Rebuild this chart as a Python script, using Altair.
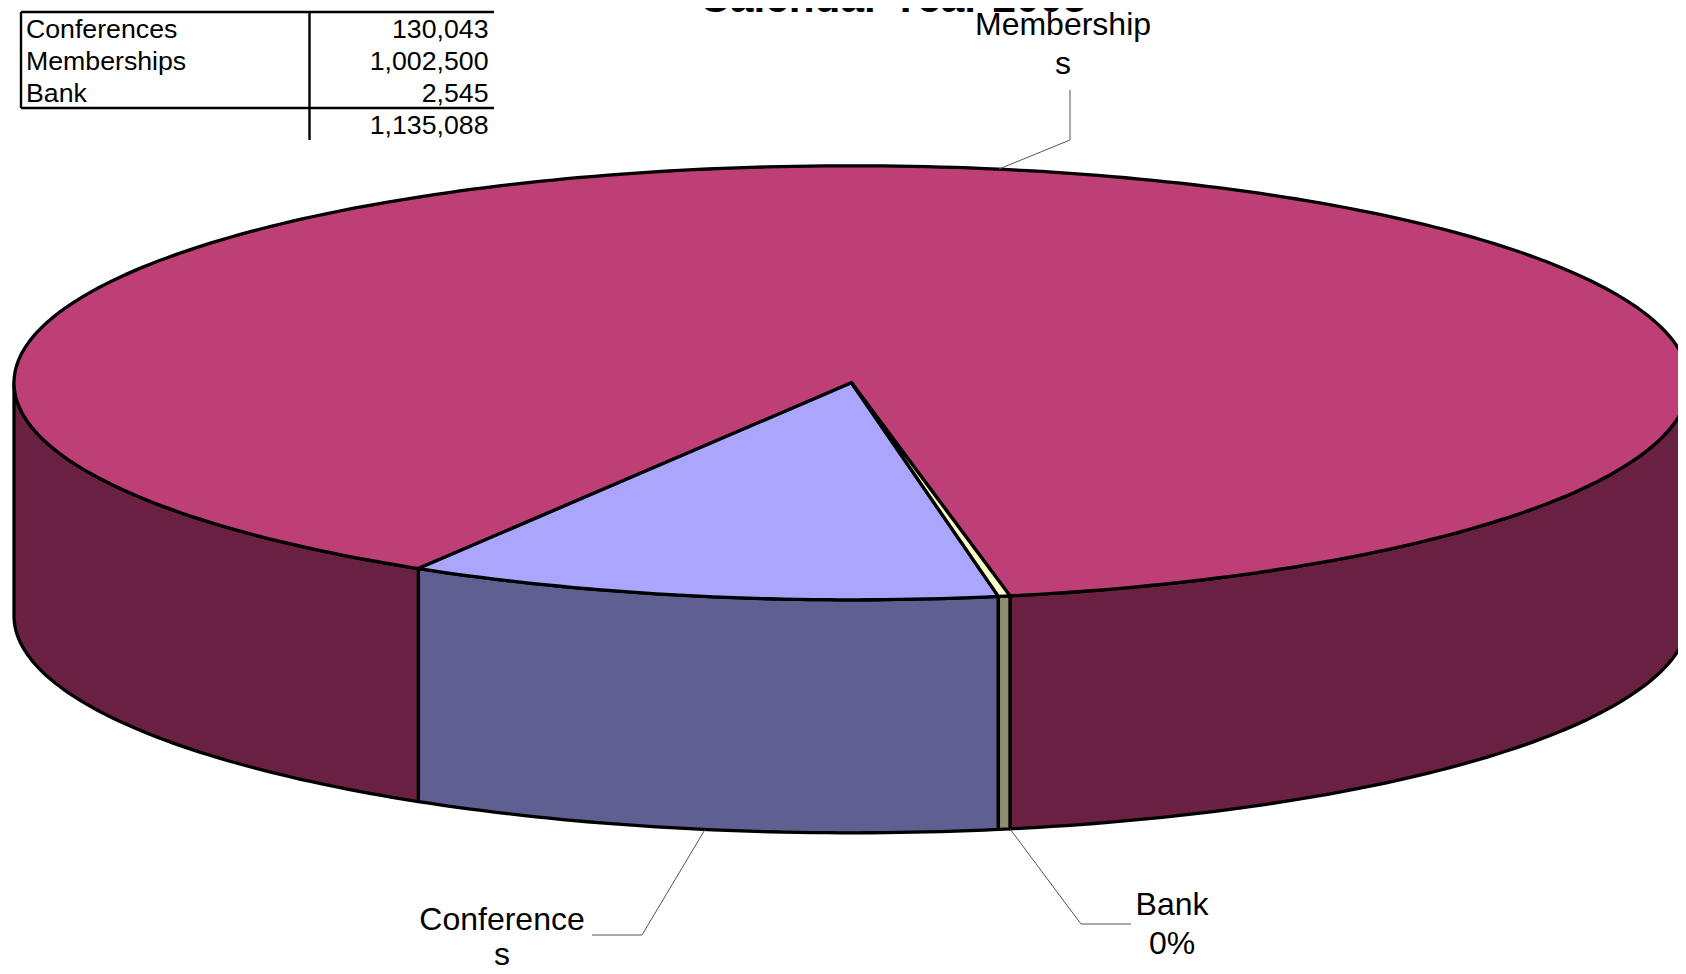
import math
import altair as alt
import pandas as pd

# ---- chart values ----
categories = ["Conferences", "Memberships", "Bank"]
values = [130043, 1002500, 2545]
total_label = "1,135,088"
value_labels = ["130,043", "1,002,500", "2,545"]
top_colors = ["#ABA6FD", "#BE3F76", "#FCFCC8"]
side_colors = ["#5F5F92", "#6A2040", "#8F8F70"]
title_text = "Calendar Year 2005"

# ---- layout of the drawing (page pixels) ----
W, H = 1670, 958
CX, CY, RX, RY, DEPTH = 851.5, 382.8, 837.5, 217.0, 233.0
START = 10.1  # degrees right of the front point where the first slice begins
TEXT = "Liberation Sans"

x_scale = alt.Scale(domain=[8, 8 + W], range=[0, W], nice=False, zero=False)
y_scale = alt.Scale(domain=[8, 8 + H], range=[0, H], nice=False, zero=False)
X = lambda f="x": alt.X(f"{f}:Q", scale=x_scale, axis=None)
Y = lambda f="y": alt.Y(f"{f}:Q", scale=y_scale, axis=None)


def rim(t, drop=0.0):
    r = math.radians(t)
    return CX + RX * math.sin(r), CY + RY * math.cos(r) + drop


def sweep(a, b):
    n = max(2, int(abs(b - a)) + 1)
    return [a + (b - a) * i / n for i in range(n + 1)]


def poly(points, fill, sw=3.3):
    df = pd.DataFrame(points, columns=["x", "y"])
    df["i"] = range(len(df))
    return alt.Chart(df).mark_line(
        interpolate="linear-closed", fill=fill, stroke="black",
        strokeWidth=sw, strokeJoin="round",
    ).encode(x=X(), y=Y(), order="i:Q")


def wall(a, b, fill):
    ts = sweep(a, b)
    return poly([rim(t) for t in ts] + [rim(t, DEPTH) for t in reversed(ts)], fill)


# slice boundaries, going clockwise on screen (t decreases)
tot = sum(values)
bounds = [START]
for v in values:
    bounds.append(bounds[-1] - 360.0 * v / tot)

layers = []
# side walls: only the part at the front (|t| <= 90) is visible
for i in range(3):
    a, b = bounds[i], bounds[i + 1]
    if i == 1:
        layers.append(wall(a, -90, side_colors[i]))
        layers.append(wall(bounds[2] + 360, 90, side_colors[i]))
    else:
        layers.append(wall(a, b, side_colors[i]))
# top faces
for i in [1, 0, 2]:
    a, b = bounds[i], bounds[i + 1]
    layers.append(poly([(CX, CY)] + [rim(t) for t in sweep(a, b)], top_colors[i]))


def leader(points):
    df = pd.DataFrame(points, columns=["x", "y"])
    df["i"] = range(len(df))
    return alt.Chart(df).mark_line(stroke="#555555", strokeWidth=1).encode(
        x=X(), y=Y(), order="i:Q"
    )


mid = [(bounds[i] + bounds[i + 1]) / 2 for i in range(3)]
layers.append(leader([rim(mid[1]), (1070, 140), (1070, 90)]))
layers.append(leader([rim(mid[0] + 0.45, DEPTH), (642, 935), (592, 935)]))
layers.append(leader([rim(bounds[2] + 360, DEPTH), (1081, 924), (1131, 924)]))

# table rules
for pts, sw in [
    ([(21, 12), (494, 12)], 2.4),
    ([(21, 108), (494, 108)], 2.4),
    ([(21, 12), (21, 108)], 2.4),
    ([(309.5, 12), (309.5, 140)], 2.4),
]:
    df = pd.DataFrame(pts, columns=["x", "y"])
    layers.append(alt.Chart(df).mark_line(stroke="black", strokeWidth=sw).encode(x=X(), y=Y()))


def text(rows, size, align="center", weight="normal"):
    df = pd.DataFrame(rows, columns=["x", "y", "t"])
    return alt.Chart(df).mark_text(
        font=TEXT, fontSize=size, align=align, baseline="alphabetic",
        fontWeight=weight, color="black",
    ).encode(x=X(), y=Y(), text="t:N")


rows_y = [38, 70, 102, 134]
layers.append(text([(26, rows_y[i], categories[i]) for i in range(3)], 26.7, "left"))
layers.append(text(
    [(488.5, rows_y[i], (value_labels + [total_label])[i]) for i in range(4)], 26.7, "right"
))
layers.append(text(
    [(1063, 35, "Membership"), (1063, 74, "s"),
     (502, 930, "Conference"), (502, 965, "s"),
     (1172, 915, "Bank"), (1172, 954, "0%")], 32,
))
layers.append(text([(893, 12, title_text)], 42.3, weight="bold"))

chart = alt.layer(*layers).properties(
    width=W, height=H, padding=0,
    autosize=alt.AutoSizeParams(type="none"),
).configure_view(stroke=None)

chart.save("out.html", embed_options={"renderer": "svg", "actions": False})
